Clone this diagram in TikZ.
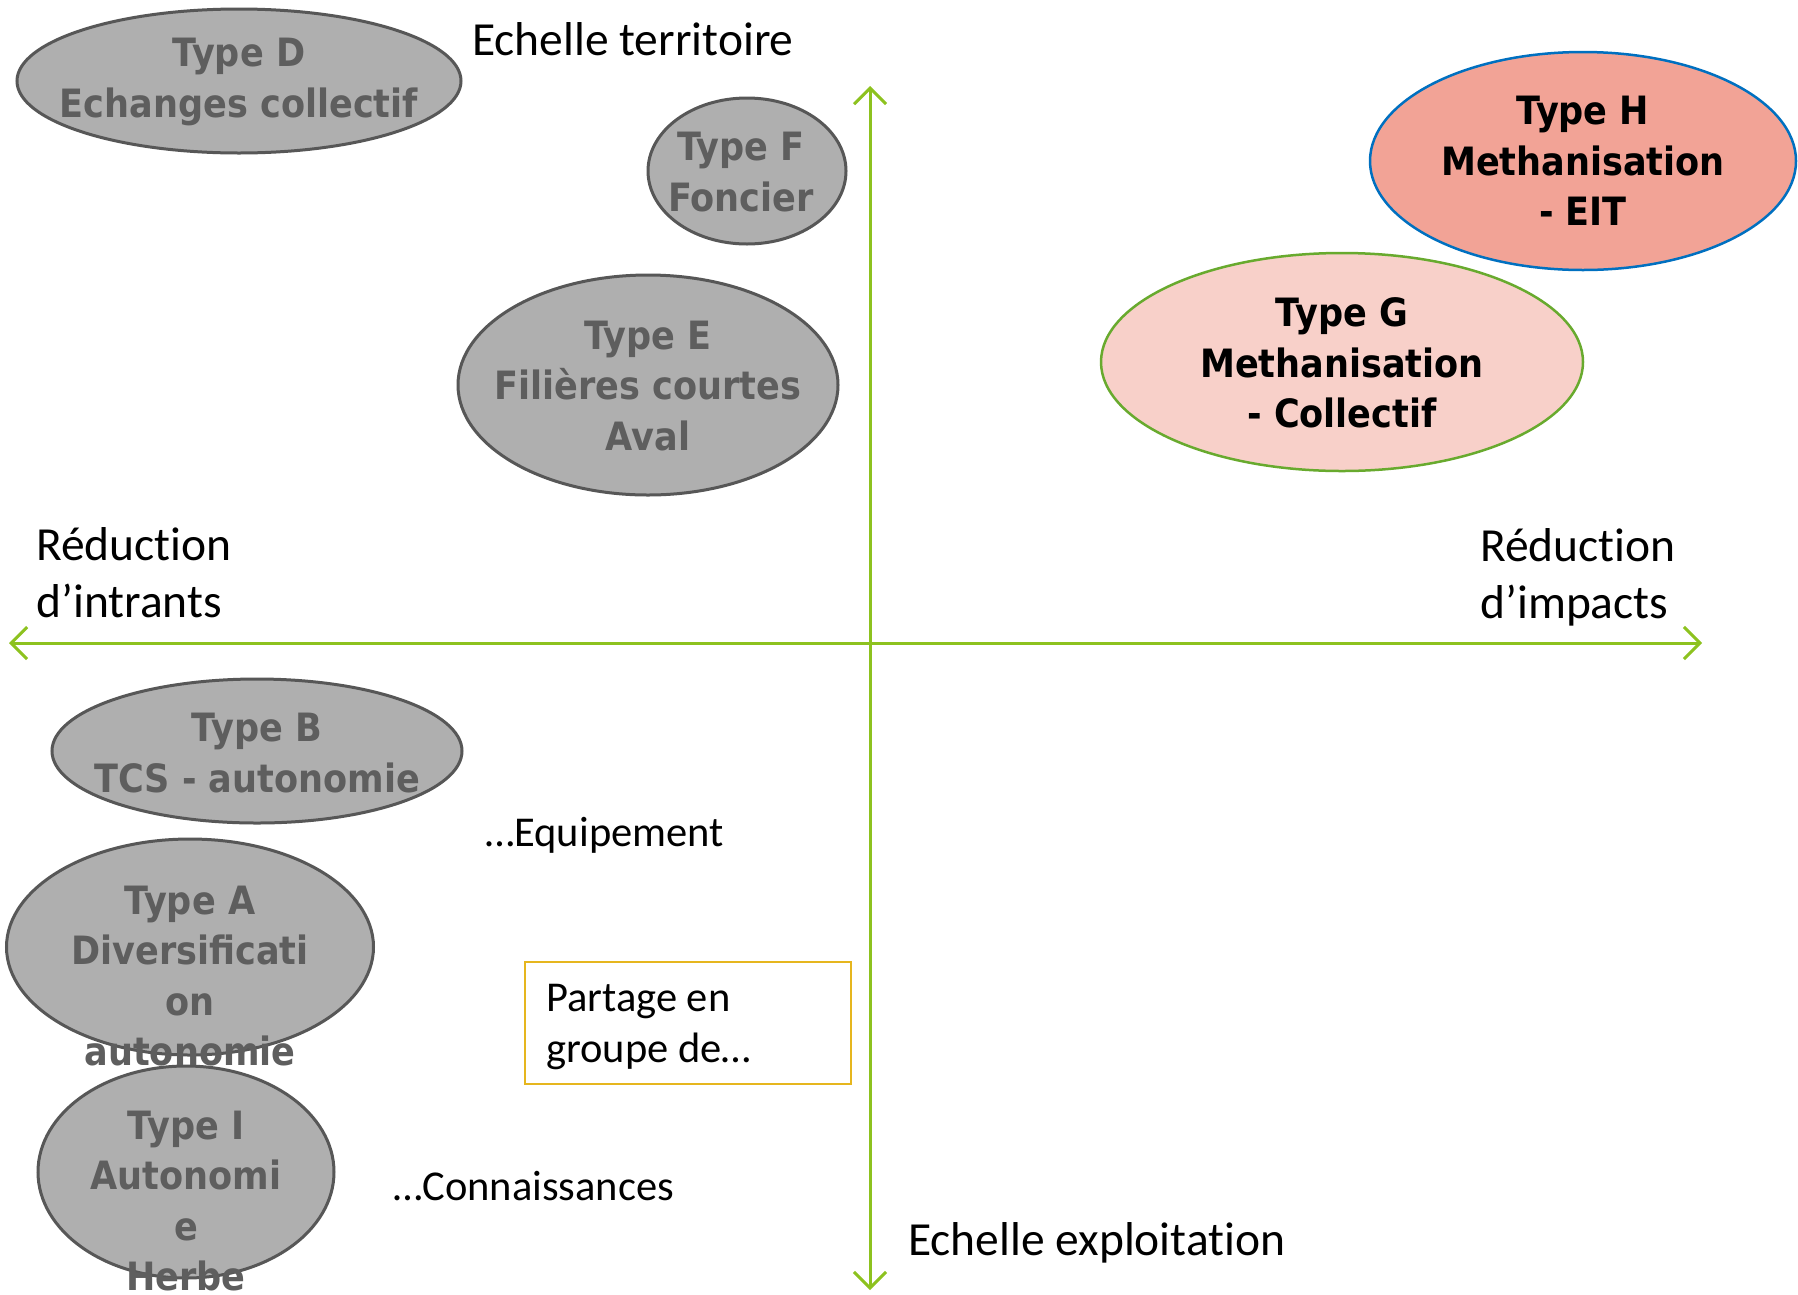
\documentclass[tikz,border=0pt]{standalone}
\usepackage{fontspec}
\setmainfont{Carlito}[Ligatures=NoCommon]
\newfontfamily\ellfont{DejaVu Sans Condensed}
\usetikzlibrary{shapes.geometric,arrows.meta}
\definecolor{axisgreen}{HTML}{8DC21F}
\definecolor{greyfill}{HTML}{AFAFAF}
\definecolor{greyline}{HTML}{575757}
\definecolor{greytext}{HTML}{5E5E5E}
\definecolor{hfill}{HTML}{F2A396}
\definecolor{hline}{HTML}{0070C0}
\definecolor{gfill}{HTML}{F8D0C9}
\definecolor{gline}{HTML}{68AA2E}
\definecolor{boxline}{HTML}{E6B61E}
\tikzset{
  ell/.style={ellipse, inner sep=0pt, line width=3pt},
  greyell/.style={ell, draw=greyline, fill=greyfill},
  elltext/.style={align=center, inner sep=0pt, font=\ellfont\bfseries\fontsize{39}{50.5}\selectfont},
  greytxt/.style={elltext, text=greytext},
  blktxt/.style={elltext, text=black},
  lbl/.style={align=left, inner sep=0pt, anchor=west, font=\fontsize{47.5}{57}\selectfont},
  smalllbl/.style={align=left, inner sep=0pt, anchor=west, font=\fontsize{42.5}{50.5}\selectfont},
  axisline/.style={draw=axisgreen, line width=3pt, {Straight Barb[length=16pt,width=32pt]}-{Straight Barb[length=16pt,width=32pt]}}
}
\begin{document}
\begin{tikzpicture}[x=1pt,y=-1pt]
\clip (0,0) rectangle (1798,1294);
\fill[white] (0,0) rectangle (1798,1294);
% axes
\coordinate (axL) at (9,643);
\coordinate (axR) at (1702,643);
\coordinate (axT) at (870,86);
\coordinate (axB) at (870,1290);
\draw[axisline] (axL) -- (axR);
\draw[axisline] (axT) -- (axB);
% ellipses
\node[greyell, minimum width=444pt, minimum height=144pt] (eD) at (239,81) {};
\node[greyell, minimum width=198pt, minimum height=146pt] (eF) at (747,171) {};
\node[greyell, minimum width=380pt, minimum height=220pt] (eE) at (648,385) {};
\node[ell, draw=hline, fill=hfill, line width=2.5pt, minimum width=426pt, minimum height=218pt] (eH) at (1583,161) {};
\node[ell, draw=gline, fill=gfill, line width=2.5pt, minimum width=482pt, minimum height=218pt] (eG) at (1342,362) {};
\node[greyell, minimum width=410pt, minimum height=144pt] (eB) at (257,751) {};
\node[greyell, minimum width=367pt, minimum height=216pt] (eA) at (190,947) {};
\node[greyell, minimum width=296pt, minimum height=212pt] (eI) at (186,1172) {};
% ellipse texts
\node[greytxt] (tD) at (239,82) {Type D\\Echanges collectif};
\node[greytxt] (tF) at (741,172) {Type F\\Foncier};
\node[greytxt] (tE) at (648,386) {Type E\\Filières courtes\\Aval};
\node[blktxt] (tH) at (1583,161) {Type H\\Methanisation\\- EIT};
\node[blktxt] (tG) at (1342,363) {Type G\\Methanisation\\- Collectif};
\node[greytxt] (tB) at (257,753) {Type B\\TCS - autonomie};
\node[greytxt] (tA) at (190,976) {Type A\\Diversificati\\on\\autonomie};
\node[greytxt] (tI) at (186,1201) {Type I\\Autonomi\\e\\Herbe};
% labels
\node[lbl] (lTer) at (472,39) {Echelle territoire};
\node[lbl] (lExp) at (908,1243) {Echelle exploitation};
\node[lbl] (lInt) at (36,573) {Réduction\\d’intrants};
\node[lbl] (lImp) at (1480,577) {Réduction\\d’impacts};
\node[smalllbl] (lEq) at (485,835) {…Equipement};
\node[smalllbl] (lCo) at (393,1186) {…Connaissances};
% box
\node[draw=boxline, line width=2pt, minimum width=326pt, minimum height=122pt, inner sep=0pt] (box) at (688,1023) {};
\node[smalllbl] (tBox) at (546,1027) {Partage en\\groupe de…};
\end{tikzpicture}
\end{document}
